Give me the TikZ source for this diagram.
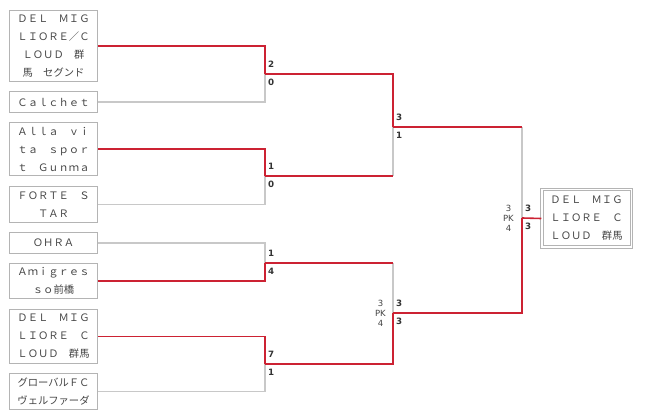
\documentclass[tikz,border=0pt]{standalone}
\usepackage{fontspec}
\newfontfamily\jpfont{Noto Sans CJK JP}
\newfontfamily\scorefont{DejaVu Sans}
\usepackage{tikz}
\usetikzlibrary{
    calc,
    positioning
}
\definecolor{winred}{HTML}{CC2233}
\definecolor{losegray}{HTML}{C8C8C8}
\definecolor{boxgray}{HTML}{B4B4B4}
\definecolor{txtgray}{HTML}{444444}

\begin{document}
\begin{tikzpicture}[x=1pt, y=-1pt,
    team/.style={draw=boxgray, line width=1.5pt, fill=white, minimum width=88, inner sep=0pt,
        align=center, text=txtgray, font=\jpfont\fontsize{10.3}{18}\selectfont},
    win/.style={draw=winred, line width=1.6pt},
    lose/.style={draw=losegray, line width=1.6pt},
    score/.style={inner sep=0pt, font=\scorefont\bfseries\fontsize{8.7}{8.7}\selectfont, text=black!80},
    pk/.style={inner sep=0pt, align=center, font=\scorefont\fontsize{8.5}{10}\selectfont, text=txtgray}]
    \useasboundingbox (0,0) rectangle (650,419);
    % teams
    \node (T1) [team, minimum height=71] at (53.5,46) {ＤＥＬ　ＭＩＧ\\ＬＩＯＲＥ／Ｃ\\ＬＯＵＤ　群\\馬　セグンド};
    \node (T2) [team, minimum height=21] at (53.5,102) {Ｃａｌｃｈｅｔ};
    \node (T3) [team, minimum height=53] at (53.5,149) {Ａｌｌａ　ｖｉ\\ｔａ　ｓｐｏｒ\\ｔ　Ｇｕｎｍａ};
    \node (T4) [team, minimum height=36] at (53.5,204.5) {ＦＯＲＴＥ　Ｓ\\ＴＡＲ};
    \node (T5) [team, minimum height=21] at (53.5,243) {ＯＨＲＡ};
    \node (T6) [team, minimum height=35] at (53.5,281) {Ａｍｉｇｒｅｓ\\ｓｏ前橋};
    \node (T7) [team, minimum height=54] at (53.5,336.5) {ＤＥＬ　ＭＩＧ\\ＬＩＯＲＥ　Ｃ\\ＬＯＵＤ　群馬};
    \node (T8) [team, minimum height=36] at (53.5,391.5) {グローバルＦＣ\\ヴェルファーダ};
    \node (W) [team, double=white, double distance=1.5pt, line width=1pt, minimum width=89.5,
        minimum height=57.5] at (586.5,218.5) {ＤＥＬ　ＭＩＧ\\ＬＩＯＲＥ　Ｃ\\ＬＯＵＤ　群馬};
    % junctions
    \coordinate (M1) at (265,74);
    \coordinate (M2) at (265,176);
    \coordinate (M3) at (265,263);
    \coordinate (M4) at (265,364);
    \coordinate (S1) at (393,127);
    \coordinate (S2) at (393,313);
    \coordinate (F) at (522,218);
    % losers first
    \draw[lose] (T2.east) -| (M1);
    \draw[lose] (T4.east) -| (M2);
    \draw[lose] (T5.east) -| (M3);
    \draw[lose] (T8.east) -| (M4);
    \draw[lose] (M2 -| S1) -- (S1);
    \draw[lose] (M3 -| S2) -- (S2);
    \draw[lose] (S1 -| F) -- (F);
    % winners
    \draw[win] (T1.east) -| (M1);
    \draw[win] (T3.east) -| (M2);
    \draw[win] (T6.east) -| (M3);
    \draw[win] (T7.east) -| (M4);
    \draw[win] (M1) -| (S1);
    \draw[win] (M2) -- (M2 -| S1);
    \draw[win] (M3) -- (M3 -| S2);
    \draw[win] (M4) -| (S2);
    \draw[win] (S1) -- (S1 -| F);
    \draw[win] (S2) -| (F);
    \draw[win] (F) -- (W.west);
    % scores
    \foreach \j/\a/\b in {M1/2/0, M2/1/0, M3/1/4, M4/7/1, S1/3/1, S2/3/3, F/3/3} {
        \node[score, anchor=base west] at ($(\j)+(3,-6.5)$) {\a};
        \node[score, anchor=base west] at ($(\j)+(3,11.5)$) {\b};
    }
    \node[pk, anchor=east] at ([xshift=-7pt]S2) {3\\PK\\4};
    \node[pk, anchor=east] at ([xshift=-8pt]F) {3\\PK\\4};
\end{tikzpicture}
\end{document}
